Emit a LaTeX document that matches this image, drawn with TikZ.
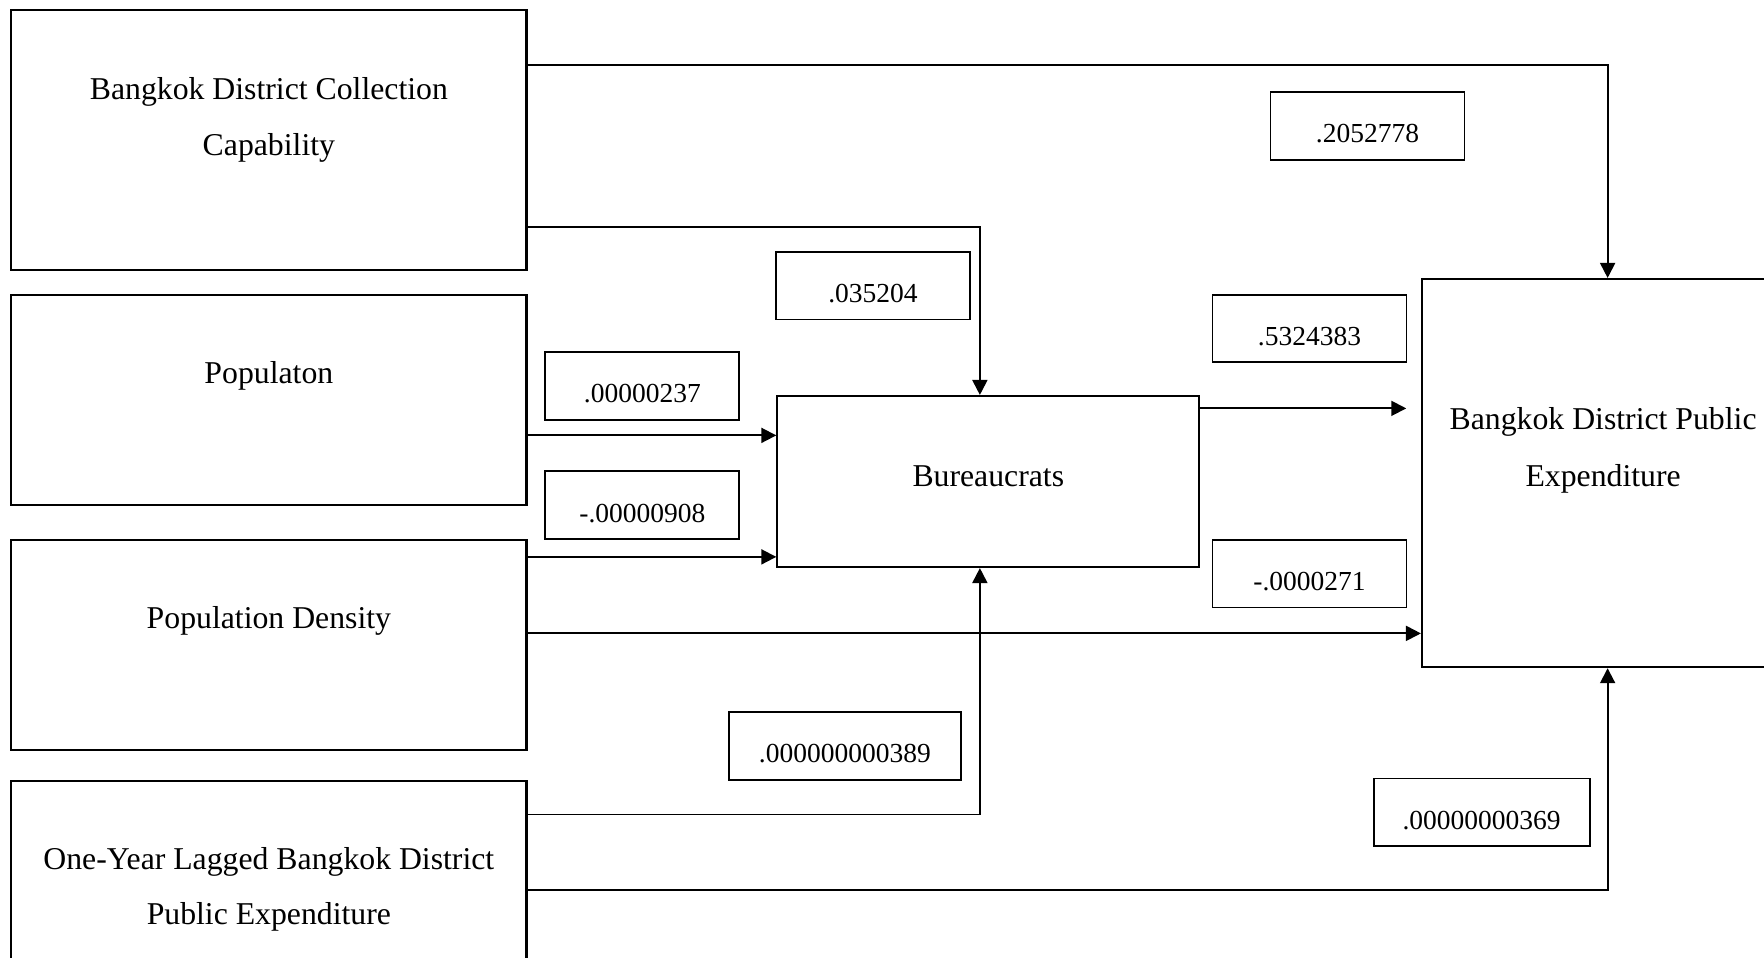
\documentclass[tikz,border=0pt]{standalone}
\usepackage{fontspec}
\setmainfont{Liberation Serif}
\usetikzlibrary{arrows.meta}

\tikzset{
  box/.style={draw, line width=0.85pt, inner sep=0pt},
  vartext/.style={anchor=base, inner sep=0pt, font=\fontsize{12.7}{15}\selectfont},
  coef/.style={draw, line width=0.75pt, inner sep=0pt, minimum width=77.6pt,
    text height=20.25pt, text depth=6.75pt, font=\fontsize{11}{13}\selectfont},
  arr/.style={line width=0.75pt, -{Triangle[length=6pt, width=6pt]}}
}

\begin{document}
\begin{tikzpicture}[x=0.45pt, y=-0.45pt]
\clip (0,0) rectangle (1568,851);

% variable boxes
\node[box, minimum width=206.1pt, minimum height=103.95pt] (cap) at (239,124.5) {};
\node[box, minimum width=206.1pt, minimum height=84.15pt] (pop) at (239,355.5) {};
\node[box, minimum width=206.1pt, minimum height=84.15pt] (den) at (239,573.5) {};
\node[box, minimum width=206.1pt, minimum height=103.95pt] (lag) at (239,809.5) {};
\node[box, minimum width=168.75pt, minimum height=68.4pt] (bur) at (878.5,428) {};
\node[box, minimum width=148.5pt, minimum height=155.25pt] (exp) at (1429,420.5) {};

% variable names
\node[vartext] (capA) at (239,88) {Bangkok District Collection};
\node[vartext] (capB) at (239,138) {Capability};
\node[vartext] (popA) at (239,341) {Populaton};
\node[vartext] (denA) at (239,559) {Population Density};
\node[vartext] (lagA) at (239,773) {One-Year Lagged Bangkok District};
\node[vartext] (lagB) at (239,822) {Public Expenditure};
\node[vartext] (burA) at (878.5,432) {Bureaucrats};
\node[vartext] (expA) at (1425,382) {Bangkok District Public};
\node[vartext] (expB) at (1425,432) {Expenditure};

% coefficients
\node[coef] (k1) at (1215.5,112) {.2052778};
\node[coef] (k2) at (776,254) {.035204};
\node[coef] (k3) at (571,343) {.00000237};
\node[coef] (k4) at (571,449) {-.00000908};
\node[coef] (k5) at (1164,292) {.5324383};
\node[coef] (k6) at (1164,510) {-.0000271};
\node[coef, minimum width=92.7pt] (k7) at (751,663) {.000000000389};
\node[coef, minimum width=86.4pt] (k8) at (1317,722) {.00000000369};

% routing points
\coordinate (r1) at (1429,58);
\coordinate (r2) at (871,202);
\coordinate (r3) at (0,387);
\coordinate (r4) at (0,495);
\coordinate (r5) at (0,563);
\coordinate (r6) at (871,724);
\coordinate (r7) at (1429,791);
\coordinate (r8) at (1250,363);

% paths
\draw[arr] (cap.east |- r1) -| (exp.north);
\draw[arr] (cap.east |- r2) -| (bur.north -| r2);
\draw[arr] (pop.east |- r3) -- (bur.west |- r3);
\draw[arr] (den.east |- r4) -- (bur.west |- r4);
\draw[arr] (den.east |- r5) -- (exp.west |- r5);
\draw[arr] (lag.east |- r6) -| (bur.south -| r6);
\draw[arr] (lag.east |- r7) -| (exp.south);
\draw[arr] (bur.east |- r8) -- (r8);
\end{tikzpicture}
\end{document}
